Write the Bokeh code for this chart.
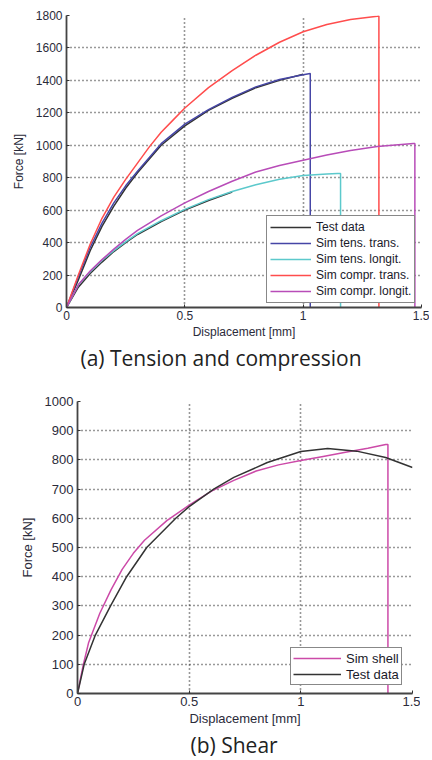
from bokeh.plotting import figure
from bokeh.layouts import column, row
from bokeh.models import Legend, LegendItem, Title, FixedTicker, Range1d, Spacer
from bokeh.embed import file_html
from bokeh.resources import INLINE

# ---------------- (a) Tension and compression ----------------
test_trans_x = [0, 0.05, 0.1, 0.15, 0.2, 0.25, 0.3, 0.35, 0.4, 0.5, 0.6, 0.7, 0.8, 0.9, 1.0]
test_trans_y = [0, 170, 350, 500, 625, 735, 830, 915, 1000, 1120, 1215, 1290, 1355, 1400, 1438]
test_long_x = [0, 0.05, 0.1, 0.15, 0.2, 0.25, 0.3, 0.4, 0.5, 0.6, 0.7]
test_long_y = [0, 125, 210, 280, 345, 400, 450, 530, 600, 660, 712]

tens_trans_x = [0, 0.05, 0.1, 0.15, 0.2, 0.25, 0.3, 0.35, 0.4, 0.5, 0.6, 0.7, 0.8, 0.9, 1.0, 1.03, 1.03]
tens_trans_y = [0, 190, 370, 520, 645, 750, 840, 925, 1010, 1130, 1220, 1295, 1360, 1405, 1435, 1442, 0]

tens_long_x = [0, 0.05, 0.1, 0.15, 0.2, 0.25, 0.3, 0.4, 0.5, 0.6, 0.7, 0.8, 0.9, 1.0, 1.1, 1.145, 1.158, 1.158]
tens_long_y = [0, 140, 220, 290, 350, 405, 455, 535, 605, 665, 715, 757, 790, 813, 823, 826, 826, 0]

compr_trans_x = [0, 0.05, 0.1, 0.15, 0.2, 0.25, 0.3, 0.35, 0.4, 0.45, 0.5, 0.6, 0.7, 0.8, 0.9, 1.0, 1.1, 1.2, 1.313, 1.32, 1.32]
compr_trans_y = [0, 200, 390, 550, 680, 790, 890, 990, 1080, 1155, 1230, 1355, 1460, 1555, 1635, 1700, 1745, 1775, 1795, 1797, 0]

compr_long_x = [0, 0.05, 0.1, 0.15, 0.2, 0.25, 0.3, 0.4, 0.5, 0.6, 0.7, 0.8, 0.9, 1.0, 1.1, 1.2, 1.313, 1.466, 1.472, 1.472]
compr_long_y = [0, 140, 225, 295, 360, 420, 475, 565, 645, 715, 778, 835, 875, 908, 940, 968, 993, 1011, 1011, 0]

a_xticks = [0, 0.5, 1, 1.5]
a_yticks = [0, 200, 400, 600, 800, 1000, 1200, 1400, 1600, 1800]

# ---------------- (b) Shear ----------------
shell_x = [0, 0.025, 0.05, 0.1, 0.15, 0.2, 0.25, 0.3, 0.4, 0.5, 0.6, 0.7, 0.8, 0.9, 1.0, 1.1, 1.2, 1.3, 1.38, 1.39, 1.39]
shell_y = [0, 95, 175, 275, 355, 425, 480, 525, 592, 645, 693, 730, 762, 783, 798, 812, 826, 840, 853, 853, 0]
shear_test_x = [0, 0.03, 0.08, 0.148, 0.22, 0.31, 0.44, 0.5, 0.61, 0.7, 0.85, 1.0, 1.12, 1.25, 1.38, 1.5]
shear_test_y = [0, 100, 200, 300, 400, 500, 600, 640, 700, 740, 791, 829, 839, 830, 808, 774]

b_xticks = [0, 0.5, 1, 1.5]
b_yticks = [0, 100, 200, 300, 400, 500, 600, 700, 800, 900, 1000]

TICK_FONT = "Liberation Sans"
BLACK = "#333333"
BLUE = "#4646a6"
CYAN = "#5cc9cc"
RED = "#ff4d4d"
MAGENTA_A = "#b84cb8"
MAGENTA_B = "#cc4aa8"


def style(p, xticks, yticks, fs, ylabel_standoff):
    p.outline_line_color = None
    p.background_fill_color = "white"
    p.border_fill_color = "white"
    for ax in (p.xaxis[0], p.yaxis[0]):
        ax.axis_line_color = "#444444"
        ax.axis_line_width = 1.8
        ax.major_tick_in = 3
        ax.major_tick_out = 0
        ax.minor_tick_line_color = None
        ax.major_tick_line_color = BLACK
        ax.major_label_text_font = TICK_FONT
        ax.major_label_text_font_size = fs
        ax.major_label_text_color = "#2b2b3a"
        ax.axis_label_text_font = TICK_FONT
        ax.axis_label_text_font_size = fs
        ax.axis_label_text_font_style = "normal"
        ax.axis_label_text_color = "#2b2b3a"
    p.xaxis[0].ticker = FixedTicker(ticks=xticks)
    p.yaxis[0].ticker = FixedTicker(ticks=yticks)
    p.xaxis[0].major_label_standoff = 3
    p.yaxis[0].major_label_standoff = 4
    p.xaxis[0].axis_label_standoff = 2
    p.yaxis[0].axis_label_standoff = ylabel_standoff
    p.xaxis[0].axis_label = "Displacement [mm]"
    p.yaxis[0].axis_label = "Force [kN]"
    for g in (p.xgrid[0], p.ygrid[0]):
        g.grid_line_color = "#333333"
        g.grid_line_dash = "1 3"
        g.grid_line_width = 1.6
        g.grid_line_alpha = 1.0


# ---- figure (a)
pa = figure(width=429, height=374, output_backend="svg", toolbar_location=None,
            x_range=Range1d(0, 1.5), y_range=Range1d(0, 1800),
            min_border_left=66, min_border_right=8, min_border_top=15, min_border_bottom=67)
style(pa, a_xticks, a_yticks, "12px", 7)

r_test1 = pa.line(test_trans_x, test_trans_y, line_color=BLACK, line_width=1.5)
pa.line(test_long_x, test_long_y, line_color=BLACK, line_width=1.5)
r_tt = pa.line(tens_trans_x, tens_trans_y, line_color=BLUE, line_width=1.5)
r_tl = pa.line(tens_long_x, tens_long_y, line_color=CYAN, line_width=1.5)
r_ct = pa.line(compr_trans_x, compr_trans_y, line_color=RED, line_width=1.5)
r_cl = pa.line(compr_long_x, compr_long_y, line_color=MAGENTA_A, line_width=1.5)

leg_a = Legend(items=[
    LegendItem(label="Test data", renderers=[r_test1]),
    LegendItem(label="Sim tens. trans.", renderers=[r_tt]),
    LegendItem(label="Sim tens. longit.", renderers=[r_tl]),
    LegendItem(label="Sim compr. trans.", renderers=[r_ct]),
    LegendItem(label="Sim compr. longit.", renderers=[r_cl]),
], location=(200, 4), glyph_width=41, padding=3, label_text_font_size="12px")
pa.add_layout(leg_a)

cap_a = Title(text="(a) Tension and compression", align="left", offset=14,
              text_font="Open Sans", text_font_size="21px", text_font_style="normal",
              text_color="#222222", standoff=0)
pa.add_layout(cap_a, "below")

# ---- figure (b)
pb = figure(width=412, height=386, output_backend="svg", toolbar_location=None,
            x_range=Range1d(0, 1.5), y_range=Range1d(0, 1000),
            min_border_left=69, min_border_right=8, min_border_top=27, min_border_bottom=67)
style(pb, b_xticks, b_yticks, "13px", 7)

r_shell = pb.line(shell_x, shell_y, line_color=MAGENTA_B, line_width=1.5)
r_stest = pb.line(shear_test_x, shear_test_y, line_color=BLACK, line_width=1.5)

leg_b = Legend(items=[
    LegendItem(label="Sim shell", renderers=[r_shell]),
    LegendItem(label="Test data", renderers=[r_stest]),
], location=(213, 8), glyph_width=48, padding=2, label_text_font_size="13px")
pb.add_layout(leg_b)

cap_b = Title(text="(b) Shear", align="left", offset=113,
              text_font="Open Sans", text_font_size="21px", text_font_style="normal",
              text_color="#222222", standoff=0)
pb.add_layout(cap_b, "below")

for lg in (leg_a, leg_b):
    lg.border_line_color = "#111111"
    lg.border_line_width = 1.3
    lg.background_fill_color = "white"
    lg.background_fill_alpha = 1
    lg.label_text_font = TICK_FONT
    lg.label_text_color = "#1a1a2a"
    lg.glyph_height = 16
    lg.label_height = 16
    lg.label_standoff = 5
    lg.spacing = 0
    lg.margin = 0

layout = column(row(pa), row(Spacer(width=8, height=10), pb), spacing=0)
open("out.html", "w").write(file_html(layout, INLINE))
